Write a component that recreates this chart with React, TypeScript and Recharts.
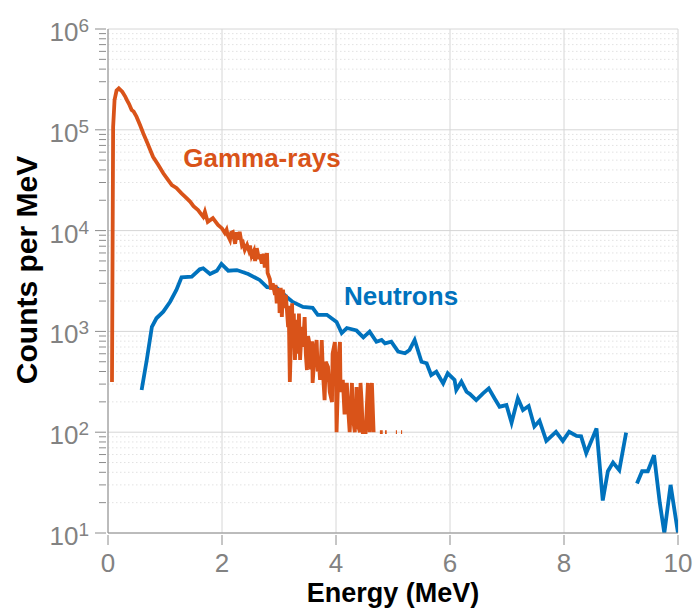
import React from 'react';
import { LineChart, Line, XAxis, YAxis, CartesianGrid, ReferenceLine, ReferenceDot, Label } from 'recharts';

// gamma-ray spectrum (MeV, counts per MeV); null = gap in the trace
const gammaEnergy = [
  0.07, 0.09, 0.115, 0.15, 0.19, 0.25, 0.3, 0.33, 0.37, 0.415, 0.45, 0.5, 0.56, 0.62, 0.7, 0.79, 0.88, 0.97,
  1.05, 1.12, 1.2, 1.29, 1.36, 1.44, 1.5, 1.58, 1.67, 1.7, 1.75, 1.84, 1.93, 2.0, 2.05, 2.08,
  2.1, 2.14, 2.16, 2.19, 2.23, 2.26, 2.3, 2.31, 2.35, 2.37, 2.4, 2.44, 2.47, 2.49, 2.52, 2.56, 2.58, 2.61,
  2.65, 2.66, 2.7, 2.73, 2.75, 2.79, 2.8, 2.84, 2.86, 2.89, 2.93, 2.94, 2.96, 3.0, 3.01, 3.03, 3.05, 3.07,
  3.1, 3.12, 3.16, 3.17, 3.19, 3.23, 3.24, 3.26, 3.28, 3.31, 3.33, 3.35, 3.37, 3.4, 3.42, 3.45, 3.47, 3.49,
  3.51, 3.54, 3.56, 3.58, 3.59, 3.63, 3.66, 3.68, 3.7, 3.72, 3.75, 3.77, 3.8, 3.82, 3.86, 3.89, 3.93, 3.94,
  3.98, 4.0, 4.01, 4.05, 4.07, 4.08, 4.12, 4.15, 4.19, 4.21, 4.24, 4.28, 4.29, 4.33, 4.36, 4.38, 4.42, 4.43,
  4.45, 4.47, 4.52, 4.56, 4.59, 4.63, 4.66, 4.7, 4.77, 4.82, 4.84, 4.86, 4.89, 4.95, 5.05, 5.07, 5.1, 5.14,
  5.16,
];
const gammaCounts = [
  315, 107000, 198000, 245000, 258000, 239000, 215000, 198000, 180000, 157000, 152000, 135000, 112000, 92000,
  72000, 54000, 45000, 37000, 32000, 28300, 26500, 23400, 21500, 19400, 17500, 16000, 13700, 15400, 12200,
  13300, 11400, 10500, 9470, 10200,
  9000, 8070, 9500, 9680, 7400, 9600, 8200, 9750, 7200, 7500, 6430, 7200, 6400, 7100, 5600, 6300, 5000, 6700,
  5200, 5800, 4700, 5900, 4300, 6000, 3800, 3300, 2600, 3000, 2300, 2900, 1900, 2700, 1520, 2700, 1390, 2600,
  1700, 2300, 1100, 1800, 315, 1900, 700, 1500, 520, 1300, 600, 1500, 520, 1110, 700, 1390, 600, 414,
  900, 733, 420, 800, 308, 650, 822, 400, 500, 330, 822, 400, 208, 500, 443, 250, 199, 600,
  785, 300, 100, 600, 785, 250, 330, 150, 308, 180, 100, 308, 150, 100, 281, 120, 100, 308,
  200, 100, 100, 308, 100, 308, 100, null, 100, 100, null, 100, 100, null, 100, 100, null, 100,
  100,
];

// neutron spectrum
const neutronEnergy = [
  0.59, 0.68, 0.77, 0.85, 0.97, 1.09, 1.2, 1.29, 1.47, 1.61, 1.67, 1.79, 1.91, 1.99, 2.11, 2.26, 2.46, 2.66,
  2.79, 2.96, 3.14, 3.24, 3.42, 3.59, 3.68, 3.84, 4.01, 4.1, 4.19, 4.36, 4.48, 4.59, 4.71, 4.8, 4.86, 4.97,
  5.09, 5.21, 5.29, 5.38, 5.5, 5.59, 5.67, 5.76, 5.88, 5.96, 6.08, 6.11, 6.2, 6.29, 6.35, 6.46, 6.58, 6.68,
  6.78, 6.87, 6.99, 7.08, 7.19, 7.28, 7.38, 7.48, 7.57, 7.69, 7.86, 7.98, 8.09, 8.22, 8.3, 8.39, 8.57, 8.68,
  8.77, 8.86, 8.97, 9.09, 9.18, 9.28, 9.37, 9.47, 9.58, 9.68, 9.76, 9.87, 10.0,
];
const neutronCounts = [
  262, 520, 1110, 1350, 1570, 1970, 2580, 3440, 3490, 4130, 4230, 3710, 4000, 4670, 4000, 4060, 3710, 3240,
  2750, 2700, 2190, 1960, 1750, 1710, 1460, 1460, 1240, 964, 1080, 1020, 873, 993, 790, 822, 762, 790, 630,
  607, 654, 822, 500, 483, 369, 398, 305, 384, 330, 262, 317, 252, 239, 208, 243, 272, 217, 179, 186, 124,
  217, 166, 182, 114, 130, 82, 101, 82, 101, 92, 91, 62, 109, 21, 41, 50, 42, 99, null, 31, 41, 41, 59, 20,
  10, 30, 10,
];

const xTicks = [0, 2, 4, 6, 8, 10];
const yDecades = [10, 100, 1000, 10000, 100000, 1000000];
const yMinor = [2, 3, 4, 5, 6, 7, 8, 9];

const gammaData = gammaEnergy.map((x, i) => ({ x, y: gammaCounts[i] }));
const neutronData = neutronEnergy.map((x, i) => ({ x, y: neutronCounts[i] }));
const minorTicks = yDecades.slice(0, -1).flatMap((d) => yMinor.map((m) => d * m));
const yTicks = [...yDecades, ...minorTicks].sort((a, b) => a - b);

const FONT = '"Liberation Sans", Arial, Helvetica, sans-serif';
const AXIS = '#8c8c8c';
const TICKTXT = '#828282';
const GRID = '#d6d6d6';
const ORANGE = '#D95319';
const BLUE = '#0072BD';

const YTick = (props: any) => {
  const { x, y, payload } = props;
  const exp = Math.round(Math.log10(payload.value));
  const major = Math.abs(Math.pow(10, exp) - payload.value) < 1e-6;
  return (
    <g>
      <line x1={x - (major ? 11 : 7)} x2={x} y1={y} y2={y} stroke={AXIS} strokeWidth={1} />
      {major && (
        <text x={x - 17} y={y + 12} textAnchor="end" fill={TICKTXT} fontSize={26} fontFamily={FONT}>
          10
          <tspan dy={-9} fontSize={19}>{exp}</tspan>
        </text>
      )}
    </g>
  );
};

const XTick = (props: any) => {
  const { x, y, payload } = props;
  return (
    <g>
      <line x1={x} x2={x} y1={y} y2={y + 10} stroke={AXIS} strokeWidth={1} />
      <text x={x} y={y + 37} textAnchor="middle" fill={TICKTXT} fontSize={26} fontFamily={FONT}>
        {payload.value}
      </text>
    </g>
  );
};

export default function App() {
  return (
    <div style={{ width: 693, height: 608, background: '#fff' }}>
      <style>{'body{margin:0}'}</style>
      <LineChart width={693} height={608} margin={{ top: 29, right: 15, left: 0, bottom: 0 }}>
        <CartesianGrid horizontal={false} stroke={GRID} />
        {minorTicks.map((v) => (
          <ReferenceLine key={'m' + v} y={v} stroke="#e2e2e2" strokeDasharray="1.5 2.5" />
        ))}
        {yDecades.map((v) => (
          <ReferenceLine key={'d' + v} y={v} stroke={GRID} />
        ))}
        <XAxis
          dataKey="x"
          type="number"
          domain={[0, 10]}
          ticks={xTicks}
          interval={0}
          allowDataOverflow
          height={75}
          tickSize={0}
          tickLine={false}
          tick={<XTick />}
          axisLine={{ stroke: AXIS }}
        >
          <Label
            content={() => (
              <text x={393} y={602} textAnchor="middle" fontSize={27} fontWeight="bold" fontFamily={FONT} fill="#000">
                Energy (MeV)
              </text>
            )}
          />
        </XAxis>
        <YAxis
          type="number"
          scale="log"
          domain={[10, 1000000]}
          ticks={yTicks}
          interval={0}
          allowDataOverflow
          width={108}
          tickSize={0}
          tickLine={false}
          tick={<YTick />}
          axisLine={{ stroke: AXIS }}
        >
          <Label
            content={() => (
              <text
                x={37}
                y={270}
                transform="rotate(-90 37 270)"
                textAnchor="middle"
                fontSize={30}
                fontWeight="bold"
                fontFamily={FONT}
                fill="#000"
              >
                Counts per MeV
              </text>
            )}
          />
        </YAxis>
        <Line
          data={neutronData}
          dataKey="y"
          type="linear"
          stroke={BLUE}
          strokeWidth={3.8}
          dot={false}
          connectNulls={false}
          isAnimationActive={false}
        />
        <Line
          data={gammaData}
          dataKey="y"
          type="linear"
          stroke={ORANGE}
          strokeWidth={3.8}
          dot={false}
          connectNulls={false}
          isAnimationActive={false}
        />
        <ReferenceDot
          x={1.32}
          y={42700}
          r={0}
          shape={(p: any) => (
            <text x={p.cx} y={p.cy} fontSize={26} fontWeight="bold" fontFamily={FONT} fill={ORANGE}>
              Gamma-rays
            </text>
          )}
        />
        <ReferenceDot
          x={4.14}
          y={1830}
          r={0}
          shape={(p: any) => (
            <text x={p.cx} y={p.cy} fontSize={26} fontWeight="bold" fontFamily={FONT} fill={BLUE}>
              Neutrons
            </text>
          )}
        />
      </LineChart>
    </div>
  );
}
